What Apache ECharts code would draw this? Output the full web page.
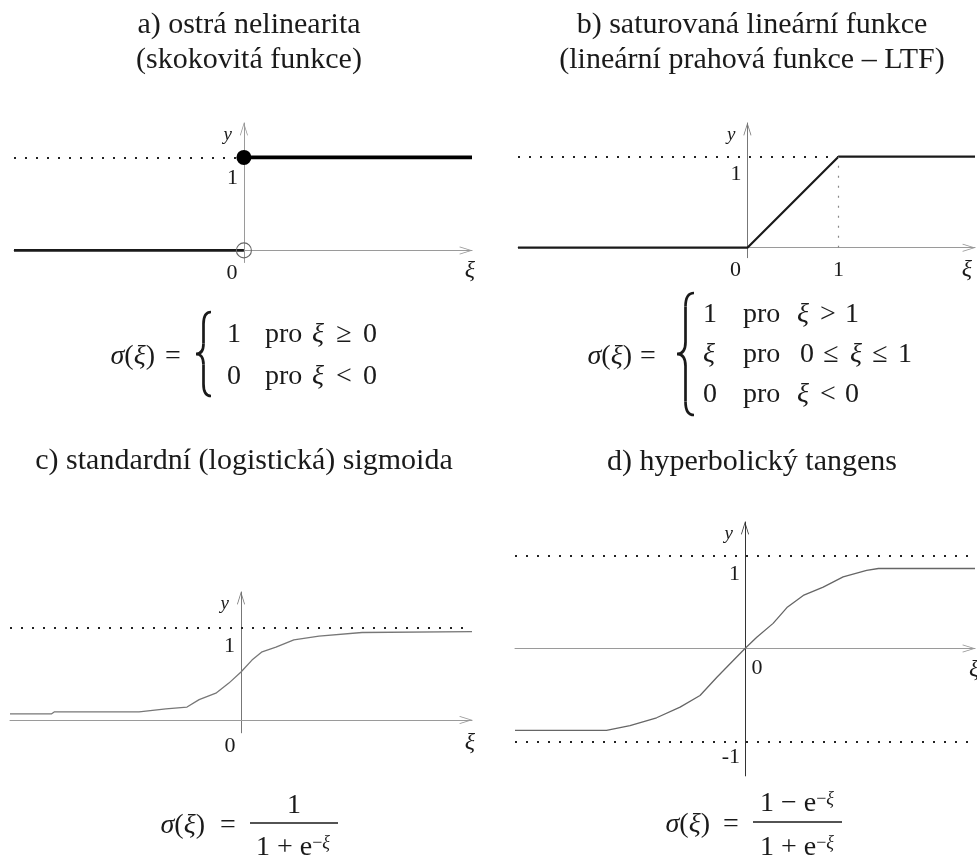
<!DOCTYPE html>
<html>
<head>
<meta charset="utf-8">
<script src="https://cdn.jsdelivr.net/npm/echarts@6/dist/echarts.min.js"></script>
<style>
  html, body { margin: 0; padding: 0; background: #fff; }
  #chart { width: 977px; height: 855px; }
</style>
</head>
<body>
<div id="chart"></div>
<script>
// a) hard threshold (step)
const stepLow = [[-2.52, 0], [0, 0]];
const stepHigh = [[0, 1], [2.5, 1]];
const stepClosed = [[0, 1]];
const stepOpen = [[0, 0]];

// b) saturated linear (LTF)
const ltfX = [-2.52, 0, 1, 2.5];
const ltfY = [0, 0, 1, 1];

// c) logistic sigmoid, sampled polyline
const sigX = [-8, -6.57, -6.47, -3.53, -2.6, -1.87, -1.45, -0.87, -0.42, 0, 0.38, 0.73, 1.21, 1.83, 2.7, 4.19, 8];
const sigY = [0.065, 0.065, 0.087, 0.087, 0.12, 0.14, 0.22, 0.29, 0.40, 0.52, 0.65, 0.74, 0.79, 0.87, 0.91, 0.95, 0.96];

// d) hyperbolic tangent, sampled polyline
const tanhX = [-4.5, -2.71, -2.25, -1.73, -1.27, -0.88, -0.55, -0.23, 0, 0.23, 0.55, 0.82, 1.14, 1.53, 1.92, 2.38, 2.61, 4.5];
const tanhY = [-0.88, -0.88, -0.83, -0.745, -0.63, -0.505, -0.31, -0.13, 0, 0.12, 0.27, 0.44, 0.57, 0.66, 0.77, 0.84, 0.86, 0.86];

// axis extents per panel
const xRangeA = [-2.52, 2.5], yRangeA = [-0.13, 1.37];
const xRangeB = [-2.52, 2.5], yRangeB = [-0.11, 1.37];
const xRangeC = [-8, 8], yRangeC = [-0.14, 1.39];
const xRangeD = [-4.5, 4.5], yRangeD = [-1.37, 1.36];

// tick labels
const xTicksA = [0], yTicksA = [1];
const xTicksB = [0, 1], yTicksB = [1];
const xTicksC = [0], yTicksC = [1];
const xTicksD = [0], yTicksD = [1, -1];

// bound / saturation levels drawn dotted
const upperLevel = 1, lowerLevel = -1;

const SERIF = '"Liberation Serif", "DejaVu Serif", serif';
const INK = '#1a1a1a';
const ARROW = 'path://M5,0L10,16L9.1,16.5L5,3.4L0.9,16.5L0,16Z';
const DOTS = [2, 9];

const zip = (xs, ys) => xs.map((x, i) => [x, ys[i]]);

function xAxis(idx, range, color, nameOpts) {
  return {
    type: 'value', gridIndex: idx, min: range[0], max: range[1],
    axisLine: { onZero: true, symbol: ['none', ARROW], symbolSize: [8, 14], symbolOffset: [0, -6],
      lineStyle: { color: color, width: 1 } },
    axisTick: { show: false }, splitLine: { show: false }, axisLabel: { show: false },
    name: 'ξ', nameLocation: 'end', nameGap: nameOpts.gap,
    nameTextStyle: { fontFamily: SERIF, fontStyle: 'italic', fontSize: 24, color: INK,
      align: nameOpts.align, verticalAlign: 'top', padding: [nameOpts.pad, 0, 0, 0] }
  };
}

function yAxis(idx, range, color) {
  return {
    type: 'value', gridIndex: idx, min: range[0], max: range[1],
    axisLine: { onZero: true, symbol: ['none', ARROW], symbolSize: [8, 14], symbolOffset: [0, -6],
      lineStyle: { color: color, width: 1 } },
    axisTick: { show: false }, splitLine: { show: false }, axisLabel: { show: false },
    name: 'y', nameLocation: 'end', nameGap: -2,
    nameTextStyle: { fontFamily: SERIF, fontStyle: 'italic', fontSize: 19, color: INK,
      align: 'right', verticalAlign: 'top', padding: [0, 12, 0, 0] }
  };
}

const tickFont = { fontFamily: SERIF, fontSize: 22, color: INK, textBorderWidth: 0, textBorderColor: 'transparent', opacity: 1 };

// tick values written next to the crossing axes
function xTickLabels(idx, ticks, offsetFor) {
  return {
    type: 'scatter', xAxisIndex: idx, yAxisIndex: idx, silent: true, symbolSize: 0,
    itemStyle: { color: INK },
    data: ticks.map(v => ({ value: [v, 0], label: { offset: offsetFor(v) } })),
    label: Object.assign({ show: true, position: 'inside', formatter: p => String(p.value[0]) }, tickFont)
  };
}

function yTickLabels(idx, ticks, offsetFor) {
  return {
    type: 'scatter', xAxisIndex: idx, yAxisIndex: idx, silent: true, symbolSize: 0,
    itemStyle: { color: INK },
    data: ticks.map(v => ({ value: [0, v], label: { offset: offsetFor(v) } })),
    label: Object.assign({ show: true, position: 'inside', align: 'right', formatter: p => String(p.value[1]) }, tickFont)
  };
}

const dotted = { type: DOTS, color: '#222', width: 1.8 };

function markLines(data) {
  return { silent: true, symbol: ['none', 'none'], label: { show: false }, lineStyle: dotted, data: data, animation: false };
}

// curly brace built from quadratic curves and straight strokes
function brace(x, t, b, w) {
  const m = (t + b) / 2, c = x + w / 2;
  const st = { stroke: INK, lineWidth: 2.7, fill: 'none' };
  const q = (x1, y1, cx, cy, x2, y2) => ({ type: 'bezierCurve', silent: true,
    shape: { x1: x1, y1: y1, cpx1: cx, cpy1: cy, x2: x2, y2: y2 }, style: st });
  const l = (x1, y1, x2, y2) => ({ type: 'line', silent: true,
    shape: { x1: x1, y1: y1, x2: x2, y2: y2 }, style: st });
  return [
    q(x + w, t, c, t, c, t + w * 0.8),
    l(c, t + w * 0.8, c, m - w * 0.7),
    q(c, m - w * 0.7, c, m, x, m),
    q(x, m, c, m, c, m + w * 0.7),
    l(c, m + w * 0.7, c, b - w * 0.8),
    q(c, b - w * 0.8, c, b, x + w, b)
  ];
}

const MATH = 28;
const mathRich = {
  i: { fontFamily: SERIF, fontStyle: 'italic', fontSize: MATH, fill: INK },
  s: { fontFamily: SERIF, fontSize: 18, verticalAlign: 'top', fill: INK },
  si: { fontFamily: SERIF, fontStyle: 'italic', fontSize: 18, verticalAlign: 'top', fill: INK }
};

function txt(x, y, text, size, align) {
  return {
    type: 'text', x: x, y: y, silent: true,
    style: { text: text, fontFamily: SERIF, fontSize: size, fill: INK,
      align: align || 'left', verticalAlign: 'middle', rich: mathRich }
  };
}

// one row of a formula: pieces placed at their own x (relations are centred)
function row(y, pieces) {
  return pieces.map(([x, t, al]) => txt(x, y, t, MATH, al));
}

function bar(x1, x2, y) {
  return { type: 'line', silent: true, shape: { x1: x1, y1: y, x2: x2, y2: y }, style: { stroke: INK, lineWidth: 1.3 } };
}

const graphics = [
  // titles
  txt(249, 25, 'a) ostrá nelinearita', 30, 'center'),
  txt(249, 60, '(skokovitá funkce)', 30, 'center'),
  txt(752, 25, 'b) saturovaná lineární funkce', 30, 'center'),
  txt(752, 60, '(lineární prahová funkce – LTF)', 30, 'center'),
  txt(244, 461, 'c) standardní (logistická) sigmoida', 30, 'center'),
  txt(752, 462, 'd) hyperbolický tangens', 30, 'center'),

  // a) formula
  txt(155, 357, '{i|σ}({i|ξ})', MATH, 'right'),
  txt(173, 357, '=', MATH, 'center'),
  ...brace(196, 312, 396, 15),
  ...row(335, [[227, '1'], [265, 'pro'], [312, '{i|ξ}'], [344, '≥', 'center'], [363, '0']]),
  ...row(377, [[227, '0'], [265, 'pro'], [312, '{i|ξ}'], [344, '<', 'center'], [363, '0']]),

  // b) formula
  txt(632, 357, '{i|σ}({i|ξ})', MATH, 'right'),
  txt(648, 357, '=', MATH, 'center'),
  ...brace(677, 293, 415, 17),
  ...row(315, [[703, '1'], [743, 'pro'], [797, '{i|ξ}'], [828, '>', 'center'], [845, '1']]),
  ...row(355, [[703, '{i|ξ}'], [743, 'pro'], [800, '0'], [831, '≤', 'center'], [850, '{i|ξ}'], [880, '≤', 'center'], [898, '1']]),
  ...row(395, [[703, '0'], [743, 'pro'], [797, '{i|ξ}'], [828, '<', 'center'], [845, '0']]),

  // c) formula
  txt(205, 826, '{i|σ}({i|ξ})', MATH, 'right'),
  txt(228, 826, '=', MATH, 'center'),
  bar(250, 338, 823),
  txt(294, 806, '1', MATH, 'center'),
  txt(293, 848, '1 + e{s|−}{si|ξ}', MATH, 'center'),

  // d) formula
  txt(710, 825, '{i|σ}({i|ξ})', MATH, 'right'),
  txt(731, 825, '=', MATH, 'center'),
  bar(753, 842, 822),
  txt(797, 804, '1 − e{s|−}{si|ξ}', MATH, 'center'),
  txt(797, 848, '1 + e{s|−}{si|ξ}', MATH, 'center')
];

const option = {
  animation: false,
  backgroundColor: '#fff',
  grid: [
    { left: 14, top: 123, width: 458, height: 139.5, outerBoundsMode: 'none', containLabel: false },
    { left: 518, top: 123, width: 457, height: 134.7, outerBoundsMode: 'none', containLabel: false },
    { left: 10, top: 592, width: 462, height: 140.8, outerBoundsMode: 'none', containLabel: false },
    { left: 515, top: 522, width: 460, height: 253.9, outerBoundsMode: 'none', containLabel: false }
  ],
  xAxis: [
    xAxis(0, xRangeA, '#9a9a9a', { gap: 3, align: 'right', pad: 8 }),
    xAxis(1, xRangeB, '#9a9a9a', { gap: -3, align: 'right', pad: 10 }),
    xAxis(2, xRangeC, '#9a9a9a', { gap: 3, align: 'right', pad: 11 }),
    xAxis(3, xRangeD, '#9a9a9a', { gap: -6, align: 'left', pad: 9 })
  ],
  yAxis: [
    yAxis(0, yRangeA, '#9a9a9a'),
    yAxis(1, yRangeB, '#777'),
    yAxis(2, yRangeC, '#777'),
    yAxis(3, yRangeD, '#333')
  ],
  graphic: graphics,
  series: [
    // a)
    { type: 'line', xAxisIndex: 0, yAxisIndex: 0, data: stepLow, showSymbol: false, silent: true,
      lineStyle: { color: '#1a1a1a', width: 2.6 },
      markLine: markLines([[{ coord: [xRangeA[0], upperLevel] }, { coord: [0, upperLevel] }]]) },
    { type: 'line', xAxisIndex: 0, yAxisIndex: 0, data: stepHigh, showSymbol: false, silent: true,
      lineStyle: { color: '#000', width: 3.6 } },
    { type: 'scatter', xAxisIndex: 0, yAxisIndex: 0, data: stepClosed, symbolSize: 15, silent: true,
      itemStyle: { color: '#000', opacity: 1 }, z: 5 },
    { type: 'scatter', xAxisIndex: 0, yAxisIndex: 0, data: stepOpen, symbolSize: 15, silent: true,
      itemStyle: { color: 'rgba(0,0,0,0)', borderColor: '#666', borderWidth: 1.1, opacity: 1 }, z: 5 },
    xTickLabels(0, xTicksA, () => [-12, 23]),
    yTickLabels(0, yTicksA, () => [-6, 21]),
    // b)
    { type: 'line', xAxisIndex: 1, yAxisIndex: 1, data: zip(ltfX, ltfY), showSymbol: false, silent: true,
      lineStyle: { color: '#1a1a1a', width: 2.2 },
      markLine: markLines([
        [{ coord: [xRangeB[0], upperLevel] }, { coord: [1, upperLevel] }],
        [{ coord: [1, 0], lineStyle: { type: [2, 8], color: '#888', width: 1.2 } }, { coord: [1, upperLevel] }]
      ]) },
    xTickLabels(1, xTicksB, v => v === 0 ? [-12, 23] : [0, 23]),
    yTickLabels(1, yTicksB, () => [-6, 18]),
    // c)
    { type: 'line', xAxisIndex: 2, yAxisIndex: 2, data: zip(sigX, sigY), showSymbol: false, silent: true,
      lineStyle: { color: '#777', width: 1.3 },
      markLine: markLines([[{ coord: [xRangeC[0], upperLevel] }, { coord: [xRangeC[1], upperLevel] }]]) },
    xTickLabels(2, xTicksC, () => [-11, 26]),
    yTickLabels(2, yTicksC, () => [-6, 18]),
    // d)
    { type: 'line', xAxisIndex: 3, yAxisIndex: 3, data: zip(tanhX, tanhY), showSymbol: false, silent: true,
      lineStyle: { color: '#666', width: 1.3 },
      markLine: markLines([
        [{ coord: [xRangeD[0], upperLevel] }, { coord: [xRangeD[1], upperLevel] }],
        [{ coord: [xRangeD[0], lowerLevel] }, { coord: [xRangeD[1], lowerLevel] }]
      ]) },
    xTickLabels(3, xTicksD, () => [12, 20]),
    yTickLabels(3, yTicksD, v => v > 0 ? [-5, 19] : [-5, 16])
  ]
};

const chart = echarts.init(document.getElementById('chart'), null, { renderer: 'canvas' });
chart.setOption(option);
</script>
</body>
</html>
